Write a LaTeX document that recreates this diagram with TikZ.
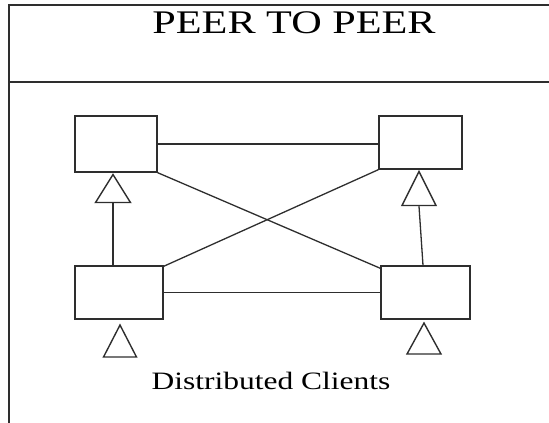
\documentclass[tikz,border=0pt]{standalone}
\usepackage{fontspec}
\setmainfont{Liberation Serif}
\usetikzlibrary{shapes.geometric}
\definecolor{linegray}{HTML}{2E2E2E}
\tikzset{
  peer/.style={draw=linegray, line width=1.4pt, rectangle, inner sep=0pt},
  tri/.style={draw=linegray, line width=1.4pt, isosceles triangle, shape border rotate=90,
    isosceles triangle stretches, inner sep=0pt, anchor=apex},
  conn/.style={draw=linegray, line width=1.3pt},
  frame/.style={draw=linegray, line width=2pt}
}
\begin{document}
\begin{tikzpicture}[x=1pt,y=-1pt]
\useasboundingbox (0,0) rectangle (549,423);
% frame
\coordinate (ftl) at (8.5,4.5);
\coordinate (ftr) at (549,4.5);
\coordinate (fbl) at (8.5,423);
\coordinate (dl) at (8.5,82);
\coordinate (dr) at (549,82);
\draw[frame] (ftr) -- (ftl) -- (fbl);
\draw[frame] (dl) -- (dr);
% title
\node[anchor=base, inner sep=0pt] (title) at (294,34)
  {\scalebox{1.28}[1]{\fontsize{33}{40}\selectfont PEER TO PEER}};
% boxes
\node[peer, minimum width=82pt, minimum height=56pt] (TL) at (116,144) {};
\node[peer, minimum width=83pt, minimum height=53pt] (TR) at (420.5,142.5) {};
\node[peer, minimum width=88pt, minimum height=53pt] (BL) at (119,292.5) {};
\node[peer, minimum width=89pt, minimum height=53pt] (BR) at (425.5,292.5) {};
% triangles
\node[tri, minimum width=35pt, minimum height=28pt] (T1) at ([xshift=-3pt]TL.south) {};
\node[tri, minimum width=34pt, minimum height=34pt] (T2) at ([xshift=-1.5pt]TR.south) {};
\node[tri, minimum width=33pt, minimum height=32pt] (T3) at ([xshift=1pt,yshift=-3.5pt]BL.south) {};
\node[tri, minimum width=34pt, minimum height=31pt] (T4) at ([xshift=-1.5pt,yshift=-1.5pt]BR.south) {};
% connectors
\draw[conn] (TL.east) -- (TR.west |- TL.east);
\draw[conn] (BL.east) -- (BR.west);
\draw[conn] (TL.south east) -- ([yshift=-3pt]BR.north west);
\draw[conn] (TR.south west) -- ([yshift=-1pt]BL.north east);
\draw[conn] (T1.lower side) -- (T1.lower side |- BL.north);
\draw[conn] (T2.lower side) -- ([xshift=-2.5pt]BR.north);
% caption
\node[anchor=base, inner sep=0pt] (cap) at (271,389)
  {\scalebox{1.26}[1]{\fontsize{25}{30}\selectfont Distributed Clients}};
\end{tikzpicture}
\end{document}
